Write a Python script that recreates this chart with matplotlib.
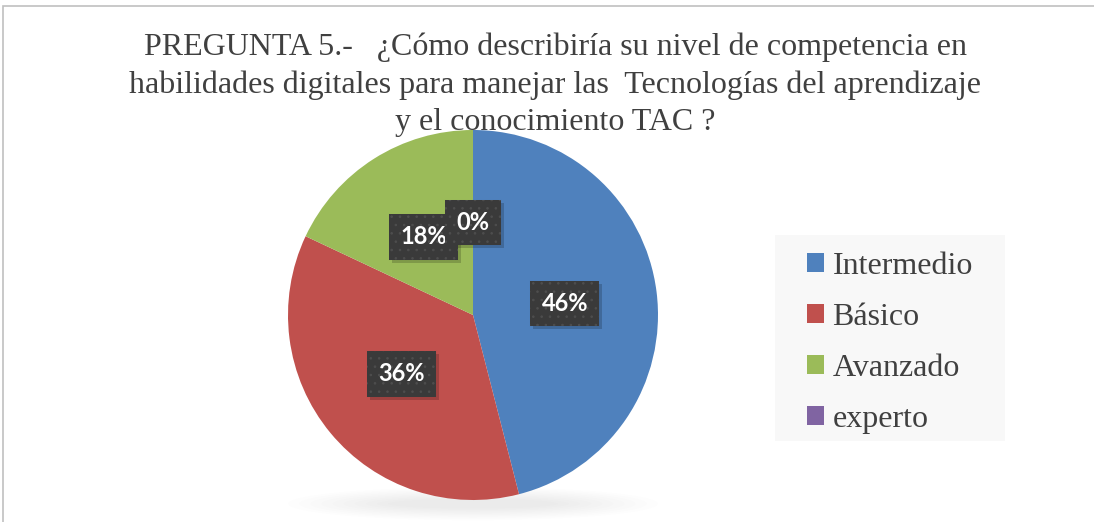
import matplotlib
matplotlib.use("Agg")
import matplotlib.pyplot as plt
from matplotlib.patches import Rectangle, Patch, Ellipse
import matplotlib.transforms as mtransforms

categories = ["Intermedio", "Básico", "Avanzado", "experto"]
values = [46, 36, 18, 0]
colors = ["#4F81BD", "#C0504D", "#9BBB59", "#8064A2"]
title = ("PREGUNTA 5.-   ¿Cómo describiría su nivel de competencia en\n"
         "habilidades digitales para manejar las  Tecnologías del aprendizaje\n"
         "y el conocimiento TAC ?")

plt.rcParams["hatch.linewidth"] = 0.6

W, H = 1094, 522
fig = plt.figure(figsize=(W / 100, H / 100), dpi=100)
fig.patch.set_facecolor("white")

# outer chart border (top and left visible)
fig.patches.append(Rectangle((3 / W, -0.2), 1.5, 1.2 - 6 / H, transform=fig.transFigure,
                             fill=False, edgecolor="#c0c0c0", linewidth=1.2))

cx, cy, r = 473, 315, 185
ax = fig.add_axes([(cx - r) / W, (H - cy - r) / H, 2 * r / W, 2 * r / H])

wedges, _, autotexts = ax.pie(values, colors=colors, startangle=90, counterclock=False,
                              radius=1.0, autopct=lambda p: f"{p:.0f}%", pctdistance=0.5,
                              wedgeprops=dict(edgecolor="none"))
ax.set_xlim(-1, 1)
ax.set_ylim(-1, 1)
ax.set_aspect("equal")
ax.axis("off")

# soft shadow under the pie
for i in range(10):
    ax.add_patch(Ellipse((0, -1.02), 2.0 - i * 0.12, 0.18 - i * 0.014, facecolor="#000000",
                         alpha=0.006, edgecolor="none", zorder=0, clip_on=False))

for t in autotexts:
    x, y = t.get_position()
    ax.text(x, y, t.get_text(), ha="center", va="center", fontsize=17,
            family="Lato", weight="bold", color=(0, 0, 0, 0), zorder=4,
            transform=ax.transData + mtransforms.ScaledTranslation(3 / 100, -3 / 100, fig.dpi_scale_trans),
            bbox=dict(boxstyle="square,pad=0.48", facecolor="#000000", alpha=0.18, edgecolor="none"))
    t.set_fontsize(17)
    t.set_family("Lato")
    t.set_weight("bold")
    t.set_color("white")
    t.set_zorder(5)
    t.set_bbox(dict(boxstyle="square,pad=0.48", facecolor="#3a3a3a", edgecolor="#4e4e4e",
                    linewidth=0.01, hatch=".."))

fig.text(555 / W, 1 - 33 / H, title, ha="center", va="top", fontsize=23,
         family="Liberation Serif", color="#404040", linespacing=1.36)

# legend background
fig.patches.append(Rectangle((775 / W, 1 - 441 / H), 230 / W, 206 / H, transform=fig.transFigure,
                             facecolor="#f8f8f8", edgecolor="none", zorder=0))
handles = [Patch(facecolor=c, edgecolor="none") for c in colors]
leg = fig.legend(handles, categories, loc="upper left",
                 bbox_to_anchor=(807 / W, 1 - 252 / H), bbox_transform=fig.transFigure,
                 frameon=False, borderpad=0, borderaxespad=0,
                 prop=dict(family="Liberation Serif", size=23),
                 handlelength=0.52, handleheight=0.52, handletextpad=0.28, labelspacing=0.69)
for txt in leg.get_texts():
    txt.set_color("#404040")

fig.savefig("out.png", dpi=100, facecolor="white")
